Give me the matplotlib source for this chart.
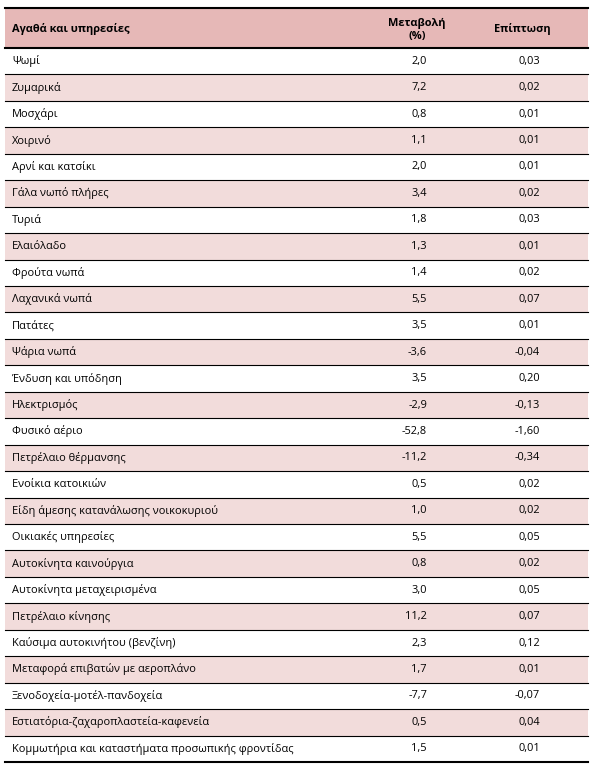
import matplotlib.pyplot as plt
from matplotlib.patches import Rectangle

items = [
    "Ψωμί", "Ζυμαρικά", "Μοσχάρι", "Χοιρινό", "Αρνί και κατσίκι",
    "Γάλα νωπό πλήρες", "Τυριά", "Ελαιόλαδο", "Φρούτα νωπά", "Λαχανικά νωπά",
    "Πατάτες", "Ψάρια νωπά", "Ένδυση και υπόδηση", "Ηλεκτρισμός",
    "Φυσικό αέριο", "Πετρέλαιο θέρμανσης", "Ενοίκια κατοικιών",
    "Είδη άμεσης κατανάλωσης νοικοκυριού", "Οικιακές υπηρεσίες",
    "Αυτοκίνητα καινούργια", "Αυτοκίνητα μεταχειρισμένα", "Πετρέλαιο κίνησης",
    "Καύσιμα αυτοκινήτου (βενζίνη)", "Μεταφορά επιβατών με αεροπλάνο",
    "Ξενοδοχεία-μοτέλ-πανδοχεία", "Εστιατόρια-ζαχαροπλαστεία-καφενεία",
    "Κομμωτήρια και καταστήματα προσωπικής φροντίδας",
]
change = [2.0, 7.2, 0.8, 1.1, 2.0, 3.4, 1.8, 1.3, 1.4, 5.5, 3.5, -3.6, 3.5,
          -2.9, -52.8, -11.2, 0.5, 1.0, 5.5, 0.8, 3.0, 11.2, 2.3, 1.7, -7.7,
          0.5, 1.5]
impact = [0.03, 0.02, 0.01, 0.01, 0.01, 0.02, 0.03, 0.01, 0.02, 0.07, 0.01,
          -0.04, 0.20, -0.13, -1.60, -0.34, 0.02, 0.02, 0.05, 0.02, 0.05, 0.07,
          0.12, 0.01, -0.07, 0.04, 0.01]
headers = ["Αγαθά και υπηρεσίες", "Μεταβολή", "(%)", "Επίπτωση"]

W, H = 595, 770
fig = plt.figure(figsize=(W / 100, H / 100), dpi=100)
ax = fig.add_axes([0, 0, 1, 1])
ax.set_xlim(0, W)
ax.set_ylim(H, 0)
ax.axis("off")

font = "Open Sans"
fs = 7.9
x0, x1 = 5, 588
top, head_h = 8, 40
row_h = (762 - top - head_h) / len(items)

# header
ax.add_patch(Rectangle((x0, top), x1 - x0, head_h, color="#e6b8b7", lw=0))
yc = top + head_h / 2
ax.text(12, yc + 1, headers[0], family=font, fontsize=fs, weight="bold", va="center")
ax.text(417, yc - 5, headers[1], family=font, fontsize=fs, weight="bold",
        va="center", ha="center")
ax.text(417, yc + 9, headers[2], family=font, fontsize=fs, weight="bold",
        va="center", ha="center")
ax.text(522, yc + 1, headers[3], family=font, fontsize=fs, weight="bold",
        va="center", ha="center")
ax.plot([x0, x1], [top, top], color="black", lw=1.5)

y = top + head_h
ax.plot([x0, x1], [y, y], color="black", lw=1.5)
for i, (name, c, p) in enumerate(zip(items, change, impact)):
    if i % 2 == 1:
        ax.add_patch(Rectangle((x0, y), x1 - x0, row_h, color="#f2dcdb", lw=0))
    yc = y + row_h / 2
    ax.text(12, yc, name, family=font, fontsize=fs, va="center")
    ax.text(427, yc, f"{c:.1f}".replace(".", ","), family=font, fontsize=fs,
            va="center", ha="right")
    ax.text(540, yc, f"{p:.2f}".replace(".", ","), family=font, fontsize=fs,
            va="center", ha="right")
    y += row_h
    last = i == len(items) - 1
    ax.plot([x0, x1], [y, y], color="black", lw=1.5 if last else 0.8)

fig.savefig("out.png", dpi=100, facecolor="white")
